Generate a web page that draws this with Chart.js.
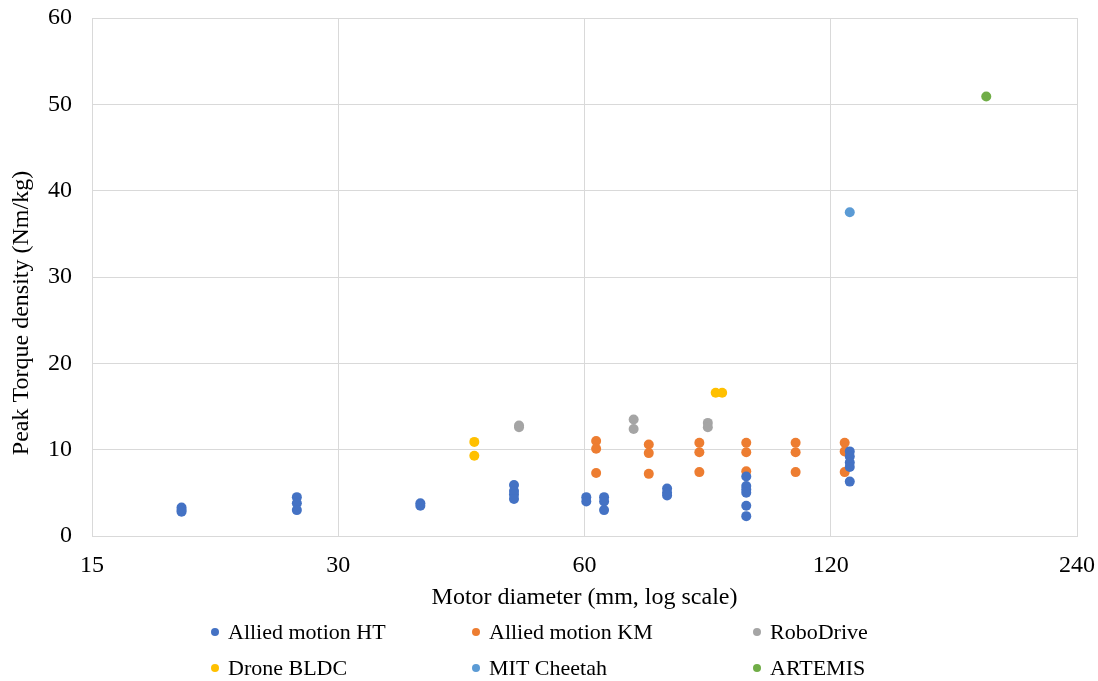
<!DOCTYPE html>
<html lang="en">
<head>
    <meta charset="UTF-8">
    <title>Peak torque density vs motor diameter</title>
    <style>
        body {
            margin: 0;
            padding: 0;
            background: #ffffff;
            font-family: "Liberation Serif", "Times New Roman", serif;
        }
        canvas {
            display: block;
        }
    </style>
    <script src="https://cdn.jsdelivr.net/npm/chart.js"></script>
</head>
<body>
    <canvas id="myChart" width="1098" height="681"></canvas>
    <script>
        // motor diameter (mm) and peak torque density (Nm/kg)
        const htX = [19.3, 19.3, 19.3, 26.7, 26.7, 26.7, 37.8, 37.8, 49.2, 49.2, 49.2, 49.2, 60.3, 60.3, 63.4, 63.4, 63.4, 75.7, 75.7, 75.7, 94.6, 94.6, 94.6, 94.6, 94.6, 94.6, 126.6, 126.6, 126.6, 126.6, 126.6];
        const htY = [3.3, 3.0, 2.8, 4.5, 3.8, 3.0, 3.8, 3.5, 5.9, 5.2, 4.8, 4.3, 4.5, 4.0, 4.5, 4.0, 3.0, 5.5, 5.0, 4.7, 6.9, 5.8, 5.4, 5.0, 3.5, 2.3, 9.8, 9.2, 8.5, 8.0, 6.3];
        const kmX = [62, 62, 62, 71.9, 71.9, 71.9, 82.9, 82.9, 82.9, 94.6, 94.6, 94.6, 108.7, 108.7, 108.7, 124.8, 124.8, 124.8];
        const kmY = [11.0, 10.1, 7.3, 10.6, 9.6, 7.2, 10.8, 9.7, 7.4, 10.8, 9.7, 7.5, 10.8, 9.7, 7.4, 10.8, 9.8, 7.4];
        const roboX = [49.9, 49.9, 68.9, 68.9, 84.9, 84.9];
        const roboY = [12.8, 12.6, 13.5, 12.4, 13.1, 12.6];
        const droneX = [44, 44, 86.8, 88.4];
        const droneY = [10.9, 9.3, 16.6, 16.6];
        const cheetahX = [126.6];
        const cheetahY = [37.5];
        const artemisX = [185.9];
        const artemisY = [50.9];

        const xTicks = [15, 30, 60, 120, 240];
        const yTicks = [0, 10, 20, 30, 40, 50, 60];
        const yTitle = 'Peak Torque density (Nm/kg)';

        const toPoints = (xs, ys) => xs.map((x, i) => ({ x: x, y: ys[i] }));
        const font = '"Liberation Serif", "Times New Roman", serif';
        const gridColor = '#d9d9d9';

        // legend in fixed columns + the y title, which sits a bit below the plot centre
        const extrasPlugin = {
            id: 'extras',
            afterDraw(chart) {
                const ctx = chart.ctx;
                const cols = [215, 476, 757];
                const rows = [632, 668];
                ctx.save();
                ctx.font = '22px ' + font;
                ctx.textBaseline = 'middle';
                ctx.textAlign = 'left';
                chart.data.datasets.forEach((ds, i) => {
                    const cx = cols[i % 3];
                    const cy = rows[Math.floor(i / 3)];
                    ctx.fillStyle = ds.backgroundColor;
                    ctx.beginPath();
                    ctx.arc(cx, cy, 4, 0, Math.PI * 2);
                    ctx.fill();
                    ctx.fillStyle = '#000000';
                    ctx.fillText(ds.label, cx + 13, cy + 1);
                });
                ctx.restore();

                ctx.save();
                ctx.translate(22, 313);
                ctx.rotate(-Math.PI / 2);
                ctx.font = '24px ' + font;
                ctx.fillStyle = '#000000';
                ctx.textAlign = 'center';
                ctx.textBaseline = 'middle';
                ctx.fillText(yTitle, 0, 0);
                ctx.restore();
            }
        };

        const ctx = document.getElementById('myChart').getContext('2d');
        new Chart(ctx, {
            type: 'scatter',
            data: {
                datasets: [
                    { label: 'Allied motion HT', data: toPoints(htX, htY), backgroundColor: '#4472C4' },
                    { label: 'Allied motion KM', data: toPoints(kmX, kmY), backgroundColor: '#ED7D31' },
                    { label: 'RoboDrive', data: toPoints(roboX, roboY), backgroundColor: '#A5A5A5' },
                    { label: 'Drone BLDC', data: toPoints(droneX, droneY), backgroundColor: '#FFC000' },
                    { label: 'MIT Cheetah', data: toPoints(cheetahX, cheetahY), backgroundColor: '#5B9BD5' },
                    { label: 'ARTEMIS', data: toPoints(artemisX, artemisY), backgroundColor: '#70AD47' }
                ]
            },
            options: {
                responsive: false,
                animation: false,
                events: [],
                layout: {
                    padding: { top: 18, right: 21, bottom: 65, left: 0 }
                },
                elements: {
                    point: { radius: 5, borderWidth: 0, hoverRadius: 5 }
                },
                plugins: {
                    legend: { display: false },
                    tooltip: { enabled: false }
                },
                scales: {
                    x: {
                        type: 'logarithmic',
                        min: 15,
                        max: 240,
                        afterBuildTicks: scale => {
                            scale.ticks = xTicks.map(v => ({ value: v }));
                        },
                        afterFit: scale => {
                            scale.height = 80;
                            scale.paddingLeft = 0;
                            scale.paddingRight = 0;
                        },
                        ticks: {
                            autoSkip: false,
                            maxRotation: 0,
                            padding: 15,
                            color: '#000000',
                            font: { family: font, size: 24 },
                            callback: v => String(v)
                        },
                        grid: { color: gridColor, drawTicks: false },
                        border: { color: gridColor },
                        title: {
                            display: true,
                            text: 'Motor diameter (mm, log scale)',
                            color: '#000000',
                            font: { family: font, size: 24 }
                        }
                    },
                    y: {
                        min: 0,
                        max: 60,
                        afterBuildTicks: scale => {
                            scale.ticks = yTicks.map(v => ({ value: v }));
                        },
                        afterFit: scale => {
                            scale.width = 92;
                            scale.paddingTop = 0;
                            scale.paddingBottom = 0;
                        },
                        ticks: {
                            padding: 20,
                            color: '#000000',
                            font: { family: font, size: 24 }
                        },
                        grid: { color: gridColor, drawTicks: false },
                        border: { color: gridColor },
                        title: { display: false }
                    }
                }
            },
            plugins: [extrasPlugin]
        });
    </script>
</body>
</html>
